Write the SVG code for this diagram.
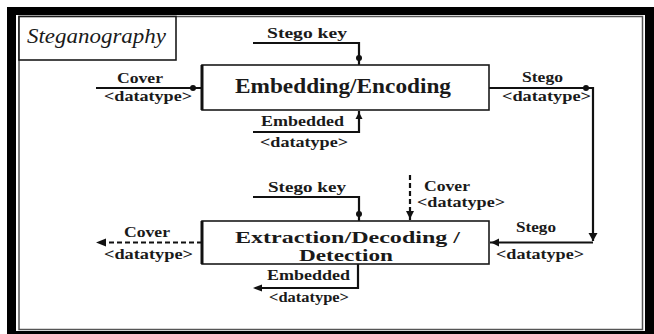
<svg xmlns="http://www.w3.org/2000/svg" width="654" height="334" viewBox="0 0 654 334">
<defs>
<style>
.lbl{font-family:"Liberation Serif","Times New Roman",serif;font-weight:bold;font-size:14.5px;fill:#1a1a1a}
.big{font-family:"Liberation Serif","Times New Roman",serif;font-weight:bold;font-size:21px;fill:#1a1a1a}
.big2{font-family:"Liberation Serif","Times New Roman",serif;font-weight:bold;font-size:16px;fill:#1a1a1a}
.ttl{font-family:"Liberation Serif","Times New Roman",serif;font-style:italic;font-size:21px;fill:#1a1a1a}
.box{fill:#fff;stroke:#1a1a1a;stroke-width:1.6}
.edge{fill:none;stroke:#111;stroke-width:2.2}
.dash{fill:none;stroke:#111;stroke-width:2.2;stroke-dasharray:5,3}
</style>
</defs>

<!-- frame -->
<rect x="7" y="7" width="647" height="327" fill="#000"/>
<rect x="16" y="15" width="629" height="316" fill="#fff"/>
<rect x="19" y="16.5" width="623.5" height="313" fill="none" stroke="#555" stroke-width="1.5"/>

<g id="title">
<rect x="19" y="16.5" width="157" height="43.5" class="box"/>
<text x="27" y="43" class="ttl" textLength="139" lengthAdjust="spacingAndGlyphs">Steganography</text>
</g>

<g id="connectors">
<!-- upper -->
<polyline class="edge" points="253,43 359,43 359,65"/>
<path class="edge" d="M96,88 H201"/>
<circle cx="193" cy="88" r="3" fill="#111"/>
<circle cx="359" cy="58" r="3" fill="#111"/>
<polyline class="edge" points="253,132 359,132 359,111"/>
<path d="M355.5,119 L359,112 L362.5,119 Z" fill="#111"/>
<polyline class="edge" points="489,88 593,88 593,241"/>
<circle cx="586" cy="88" r="3" fill="#111"/>
<path d="M588.5,233 L597.5,233 L593,241 Z" fill="#111"/>
<!-- lower -->
<polyline class="edge" points="253,197 359,197 359,221"/>
<circle cx="359" cy="214" r="3" fill="#111"/>
<path class="dash" d="M410,175 V221"/>
<path d="M406,211 H414 L410,219 Z" fill="#111"/>
<path class="edge" d="M593,242.5 H490"/>
<path d="M491,242.5 L499,238.5 L499,246.5 Z" fill="#111"/>
<path class="dash" d="M202,242.5 H104"/>
<path d="M96,242.5 L106,238.5 L106,246.5 Z" fill="#111"/>
<polyline class="edge" points="358,264 358,288 260,288"/>
<path d="M253,288 L262,284.5 L262,291.5 Z" fill="#111"/>
</g>

<g id="embed">
<rect x="202" y="65" width="287" height="45" class="box"/>
<path d="M202,65 V110" stroke="#111" stroke-width="3"/>
<text x="235" y="93" class="big" textLength="216" lengthAdjust="spacingAndGlyphs">Embedding/Encoding</text>
</g>

<g id="extract">
<rect x="202" y="221" width="287" height="43" class="box"/>
<path d="M202,221 V264" stroke="#111" stroke-width="3"/>
<text x="235" y="242.5" class="big2" textLength="225" lengthAdjust="spacingAndGlyphs">Extraction/Decoding  /</text>
<text x="299" y="260.5" class="big2" textLength="94" lengthAdjust="spacingAndGlyphs">Detection</text>
</g>

<g id="labels">
<text x="267" y="38" class="lbl" textLength="80" lengthAdjust="spacingAndGlyphs">Stego  key</text>
<text x="117" y="83" class="lbl" textLength="46" lengthAdjust="spacingAndGlyphs">Cover</text>
<text x="104" y="101" class="lbl" textLength="88" lengthAdjust="spacingAndGlyphs">&lt;datatype&gt;</text>
<text x="261" y="126" class="lbl" textLength="83" lengthAdjust="spacingAndGlyphs">Embedded</text>
<text x="260" y="147" class="lbl" textLength="88" lengthAdjust="spacingAndGlyphs">&lt;datatype&gt;</text>
<text x="522" y="82" class="lbl" textLength="41" lengthAdjust="spacingAndGlyphs">Stego</text>
<text x="502" y="101" class="lbl" textLength="89" lengthAdjust="spacingAndGlyphs">&lt;datatype&gt;</text>

<text x="268" y="192" class="lbl" textLength="78" lengthAdjust="spacingAndGlyphs">Stego  key</text>
<text x="424" y="191" class="lbl" textLength="46" lengthAdjust="spacingAndGlyphs">Cover</text>
<text x="417" y="207" class="lbl" textLength="88" lengthAdjust="spacingAndGlyphs">&lt;datatype&gt;</text>
<text x="516" y="232" class="lbl" textLength="40" lengthAdjust="spacingAndGlyphs">Stego</text>
<text x="496" y="259" class="lbl" textLength="88" lengthAdjust="spacingAndGlyphs">&lt;datatype&gt;</text>
<text x="124" y="237" class="lbl" textLength="46" lengthAdjust="spacingAndGlyphs">Cover</text>
<text x="104" y="259" class="lbl" textLength="89" lengthAdjust="spacingAndGlyphs">&lt;datatype&gt;</text>
<text x="267" y="280" class="lbl" textLength="83" lengthAdjust="spacingAndGlyphs">Embedded</text>
<text x="269" y="302" class="lbl" textLength="80" lengthAdjust="spacingAndGlyphs">&lt;datatype&gt;</text>
</g>
</svg>
